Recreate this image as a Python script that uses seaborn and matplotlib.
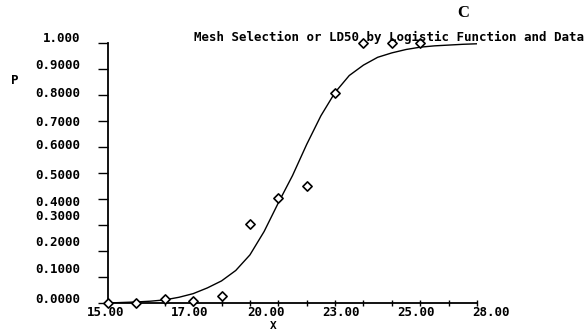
import matplotlib
matplotlib.use("Agg")
import matplotlib.pyplot as plt
import matplotlib.transforms as mtransforms
import seaborn as sns
import pandas as pd

# observed data
obs_x = [15, 16, 17, 18, 19, 20, 21, 22, 23, 24, 25, 26]
obs_p = [0.0, 0.0, 0.015, 0.008, 0.027, 0.304, 0.404, 0.45, 0.808, 1.0, 1.0, 1.0]

# fitted logistic curve
fit_x = [15, 15.5, 16, 16.5, 17, 17.5, 18, 18.5, 19, 19.5, 20, 20.5, 21, 21.5,
         22, 22.5, 23, 23.5, 24, 24.5, 25, 25.5, 26, 26.5, 27, 27.5, 28]
fit_p = [0.0, 0.002, 0.004, 0.007, 0.012, 0.022, 0.036, 0.058, 0.085, 0.125,
         0.185, 0.275, 0.385, 0.49, 0.61, 0.72, 0.81, 0.875, 0.915, 0.945,
         0.962, 0.975, 0.984, 0.989, 0.992, 0.995, 0.997]

# tick labels (placed as in the original plot)
x_tick_labels = ["15.00", "17.00", "20.00", "23.00", "25.00", "28.00"]
x_label_pos = [14.9, 17.89, 20.56, 23.2, 25.85, 28.5]
x_minor = list(range(15, 29))
y_tick_labels = ["1.000", "0.9000", "0.8000", "0.7000", "0.6000", "0.5000",
                 "0.4000", "0.3000", "0.2000", "0.1000", "0.0000"]
y_label_pos = [1.019, 0.912, 0.804, 0.696, 0.604, 0.492, 0.388, 0.331, 0.231, 0.127, 0.012]
y_minor = [0.0, 0.1, 0.2, 0.3, 0.4, 0.5, 0.6, 0.7, 0.8, 0.9, 1.0]

title = "Mesh Selection or LD50 by Logistic Function and Data"

sns.set_theme(style="white")
plt.rcParams["font.family"] = ["DejaVu Sans Mono"]

fig = plt.figure(figsize=(5.86, 3.31), dpi=100)
ax = fig.add_axes([108 / 586, 28 / 331, (477 - 108) / 586, (303 - 43) / 331])

df_fit = pd.DataFrame({"X": fit_x, "P": fit_p})
df_obs = pd.DataFrame({"X": obs_x, "P": obs_p})
sns.lineplot(data=df_fit, x="X", y="P", ax=ax, color="black", linewidth=1.0)
sns.scatterplot(data=df_obs, x="X", y="P", ax=ax, marker="D", s=22,
                facecolor="white", edgecolor="black", linewidth=1.2,
                clip_on=False, zorder=5)

ax.set_xlabel("")
ax.set_ylabel("")
for s in ["top", "right"]:
    ax.spines[s].set_visible(False)
for s in ["left", "bottom"]:
    ax.spines[s].set_color("black")
    ax.spines[s].set_linewidth(1.3)

ax.set_xticks([])
ax.set_yticks([])
ax.set_xticks(x_minor, minor=True)
ax.set_yticks(y_minor, minor=True)
ax.set_xlim(15, 28)
ax.set_ylim(0, 1)
ax.tick_params(which="both", bottom=True, left=True, top=False, right=False)
ax.tick_params(axis="x", which="minor", length=5, width=1, direction="inout", color="black")
ax.tick_params(axis="y", which="minor", length=7.2, width=1, direction="out", color="black")

# tick labels placed where the original shows them
xform_x = mtransforms.blended_transform_factory(ax.transData, ax.transAxes) + \
    mtransforms.ScaledTranslation(0, -9 / 100, fig.dpi_scale_trans)
for pos, lab in zip(x_label_pos, x_tick_labels):
    ax.text(pos, 0, lab, transform=xform_x, ha="center", va="center",
            fontsize=9, fontweight="bold", color="black", clip_on=False)
xform_y = mtransforms.blended_transform_factory(ax.transAxes, ax.transData) + \
    mtransforms.ScaledTranslation(-28 / 100, 0, fig.dpi_scale_trans)
for pos, lab in zip(y_label_pos, y_tick_labels):
    ax.text(0, pos, lab, transform=xform_y, ha="right", va="center",
            fontsize=9, fontweight="bold", color="black", clip_on=False)

fig.text(389 / 586, 1 - 37 / 331, title, ha="center", va="center",
         fontsize=9, fontweight="bold", color="black")
fig.text(463 / 586, 1 - 13 / 331, "C", ha="center", va="center",
         fontsize=12, fontweight="bold", family="Liberation Serif", color="black")
fig.text(15 / 586, 1 - 80 / 331, "P", ha="center", va="center",
         fontsize=9, fontweight="bold", color="black")
fig.text(273 / 586, 1 - 326 / 331, "X", ha="center", va="center",
         fontsize=8, fontweight="bold", color="black")

fig.savefig("out.png", dpi=100)
